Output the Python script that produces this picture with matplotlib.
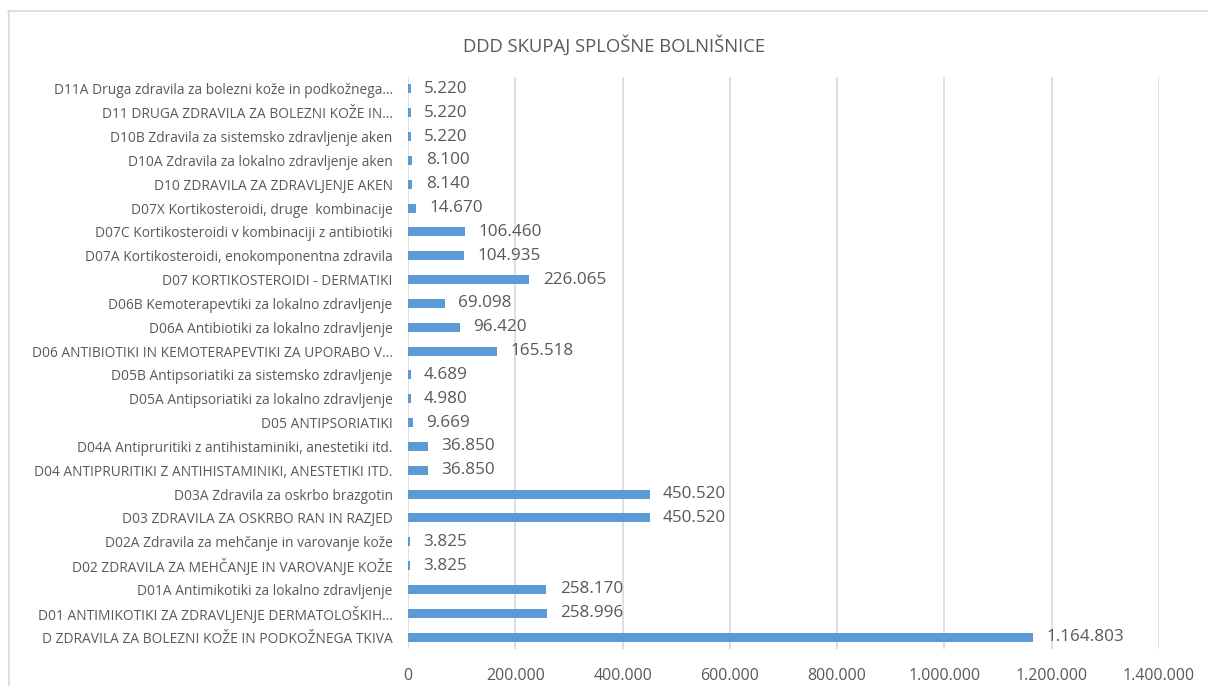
import numpy as np
import matplotlib
matplotlib.use("Agg")
import matplotlib.pyplot as plt
from matplotlib.lines import Line2D

plt.rcParams['font.family'] = ['Open Sans', 'DejaVu Sans']

# categories listed bottom to top
categories = [
    "D ZDRAVILA ZA BOLEZNI KOŽE IN PODKOŽNEGA TKIVA",
    "D01 ANTIMIKOTIKI ZA ZDRAVLJENJE DERMATOLOŠKIH…",
    "D01A Antimikotiki za lokalno zdravljenje",
    "D02 ZDRAVILA ZA MEHČANJE IN VAROVANJE KOŽE",
    "D02A Zdravila za mehčanje in varovanje kože",
    "D03 ZDRAVILA ZA OSKRBO RAN IN RAZJED",
    "D03A Zdravila za oskrbo brazgotin",
    "D04 ANTIPRURITIKI Z ANTIHISTAMINIKI, ANESTETIKI ITD.",
    "D04A Antipruritiki z antihistaminiki, anestetiki itd.",
    "D05 ANTIPSORIATIKI",
    "D05A Antipsoriatiki za lokalno zdravljenje",
    "D05B Antipsoriatiki za sistemsko zdravljenje",
    "D06 ANTIBIOTIKI IN KEMOTERAPEVTIKI ZA UPORABO V…",
    "D06A Antibiotiki za lokalno zdravljenje",
    "D06B Kemoterapevtiki za lokalno zdravljenje",
    "D07 KORTIKOSTEROIDI - DERMATIKI",
    "D07A Kortikosteroidi, enokomponentna zdravila",
    "D07C Kortikosteroidi v kombinaciji z antibiotiki",
    "D07X Kortikosteroidi, druge  kombinacije",
    "D10 ZDRAVILA ZA ZDRAVLJENJE AKEN",
    "D10A Zdravila za lokalno zdravljenje aken",
    "D10B Zdravila za sistemsko zdravljenje aken",
    "D11 DRUGA ZDRAVILA ZA BOLEZNI KOŽE IN…",
    "D11A Druga zdravila za bolezni kože in podkožnega…",
]
ddd = [1164803, 258996, 258170, 3825, 3825, 450520, 450520, 36850, 36850,
       9669, 4980, 4689, 165518, 96420, 69098, 226065, 104935, 106460,
       14670, 8140, 8100, 5220, 5220, 5220]
x_ticks = [0, 200000, 400000, 600000, 800000, 1000000, 1200000, 1400000]
title = "DDD SKUPAJ SPLOŠNE BOLNIŠNICE"


def fmt(v):
    return f"{v:,}".replace(",", ".")


W, H = 1208, 686
fig = plt.figure(figsize=(W / 100, H / 100), dpi=100)
ax = fig.add_axes([408 / W, 1 - 649 / H, (1159 - 408) / W, (649 - 77) / H])

text_col = "#595959"
grid_col = "#D9D9D9"
bar_col = "#5B9BD5"

y = np.arange(len(categories))
ax.barh(y, ddd, height=0.38, color=bar_col, zorder=3)
for yi, v in zip(y, ddd):
    ax.text(v + 25000, yi, fmt(v), va="center", ha="left",
            fontsize=12.3, color=text_col, zorder=4)

ax.set_xlim(0, 1400000)
ax.set_ylim(-0.5, len(categories) - 0.5)
ax.set_xticks(x_ticks)
ax.set_xticklabels([fmt(t) for t in x_ticks])
ax.set_yticks(y)
ax.set_yticklabels(categories)
ax.tick_params(axis="x", length=0, pad=14, labelsize=11.5, labelcolor=text_col)
ax.tick_params(axis="y", length=0, pad=11, labelsize=9.9, labelcolor=text_col)
ax.grid(axis="x", color=grid_col, linewidth=1.2, zorder=0)
for s in ax.spines.values():
    s.set_visible(False)

fig.text(614 / W, 1 - 45 / H, title, ha="center", va="center",
         fontsize=13.3, color=text_col)

# chart border (left and top edges visible)
fig.add_artist(Line2D([8.5 / W, 8.5 / W], [0, 1 - 10.5 / H],
                      transform=fig.transFigure, color=grid_col, linewidth=1.2))
fig.add_artist(Line2D([8 / W, 1], [1 - 10.5 / H, 1 - 10.5 / H],
                      transform=fig.transFigure, color=grid_col, linewidth=1.2))

fig.savefig("out.png", dpi=100)
